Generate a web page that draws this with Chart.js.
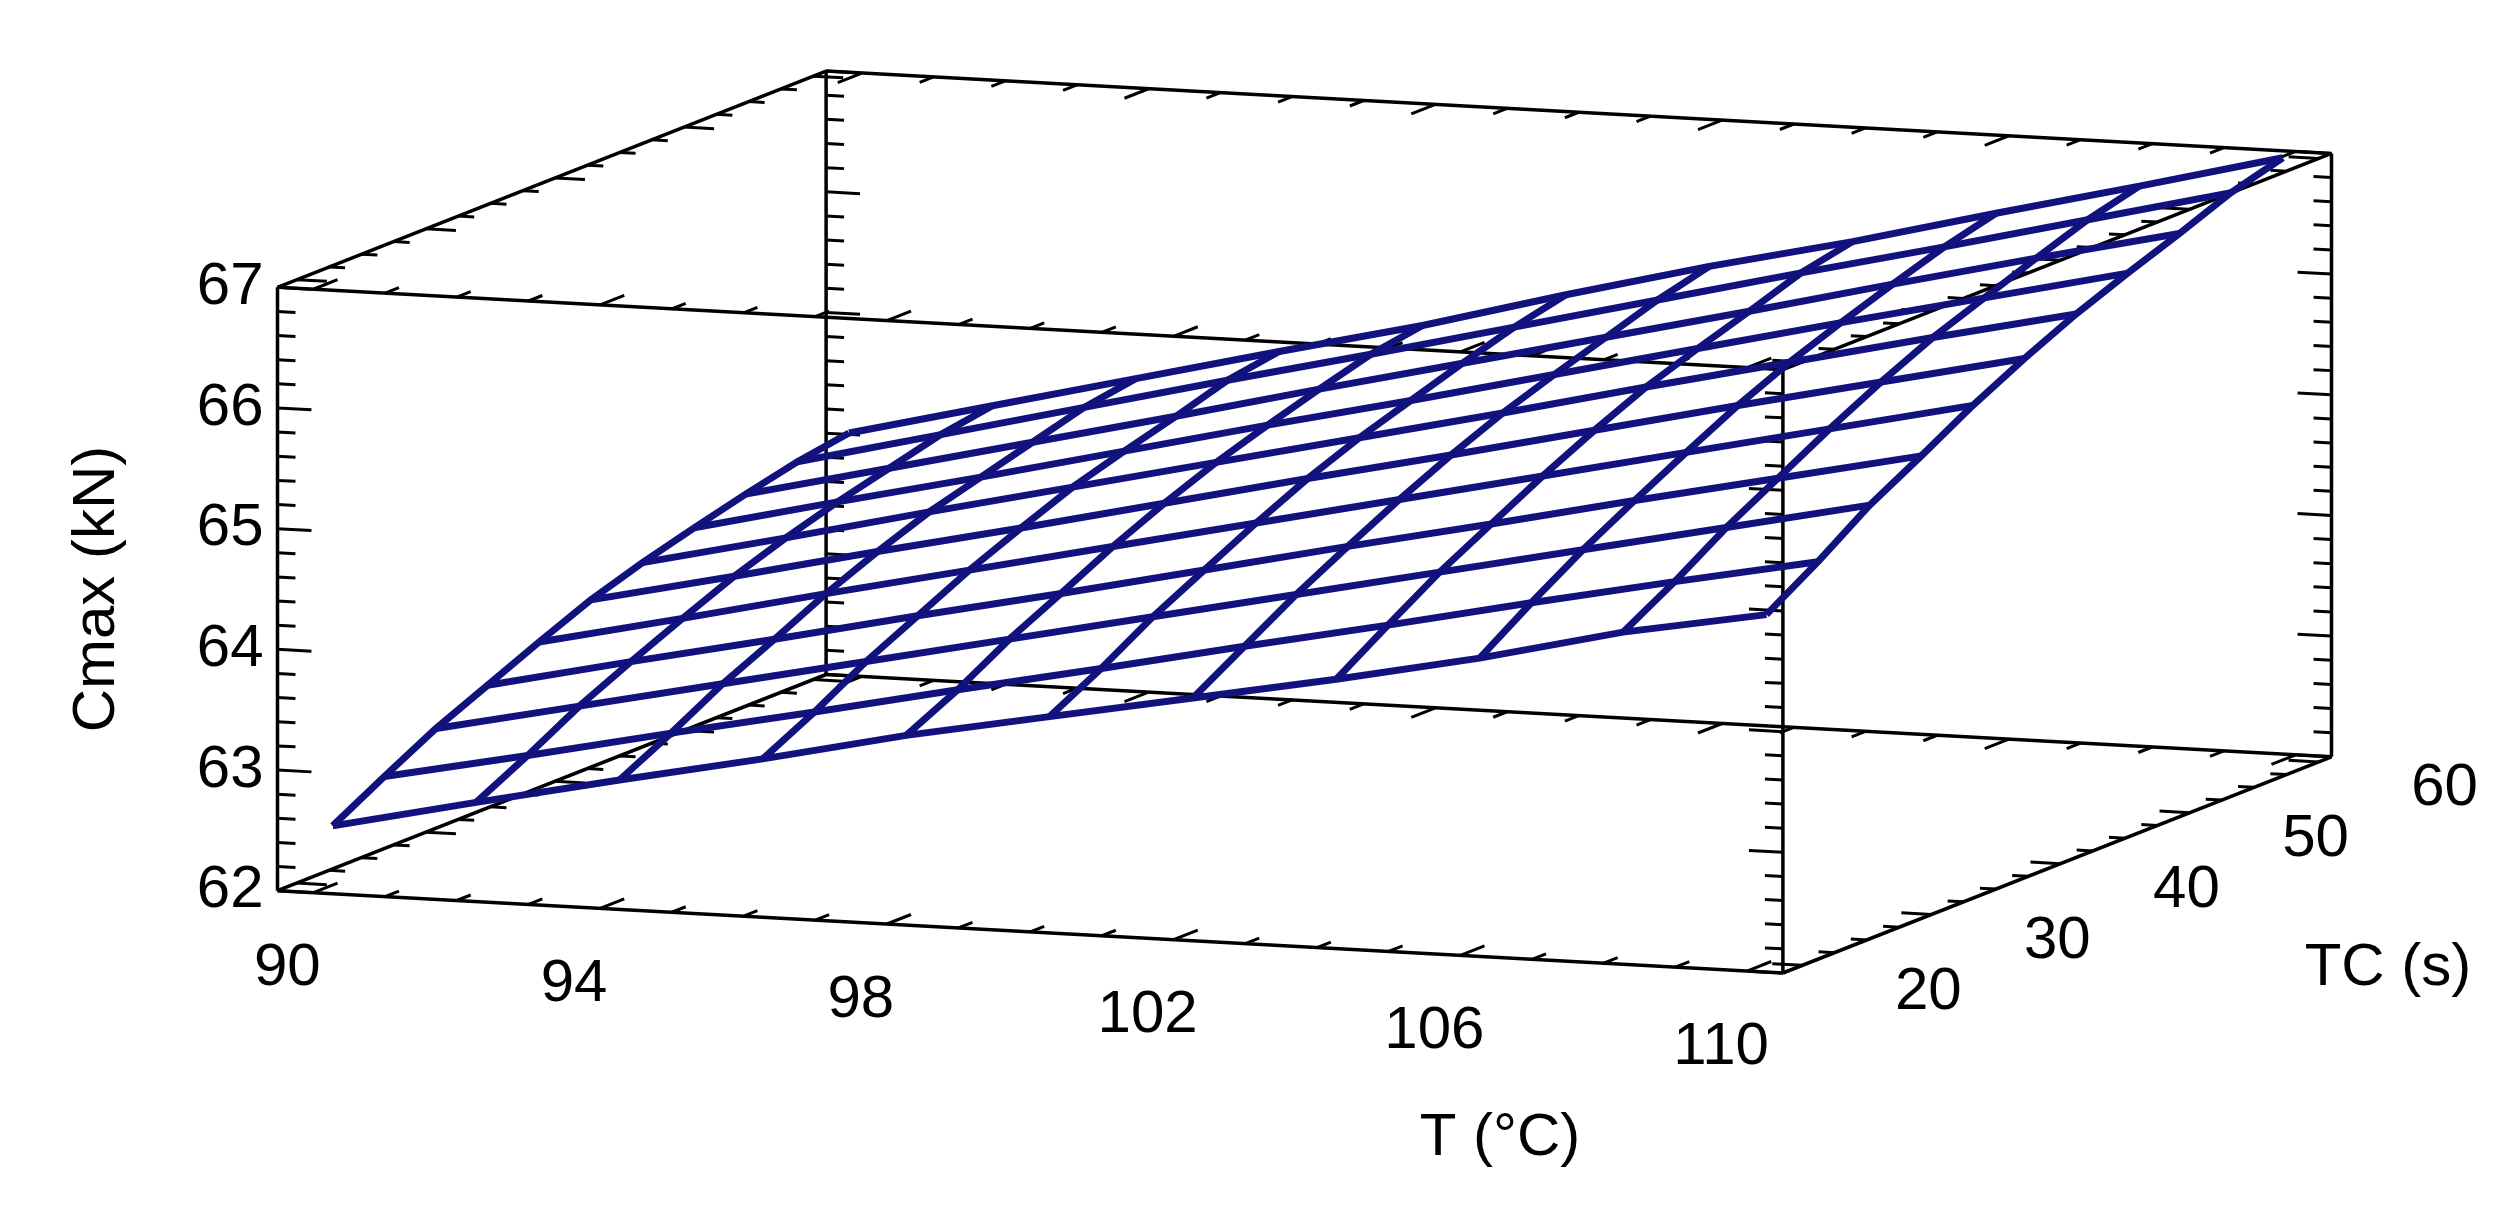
<!DOCTYPE html>
<html>
<head>
<meta charset="utf-8">
<script src="https://cdn.jsdelivr.net/npm/chart.js@4/dist/chart.umd.min.js"></script>
<style>
  html, body { margin: 0; padding: 0; background: #fff; }
  #wrap { width: 2517px; height: 1221px; }
</style>
</head>
<body>
<div id="wrap"><canvas id="chart" width="2517" height="1221"></canvas></div>
<script>
/* ------------------------------- Data -------------------------------*/

const T_VALUES = [90, 92, 94, 96, 98, 100, 102, 104, 106, 108, 110];     // T (°C)
const TC_VALUES = [20, 24, 28, 32, 36, 40, 44, 48, 52, 56, 60];          // TC (s)

// Cmax (kN), one row per TC value, one column per T value
const CMAX_TC20 = [62.49, 62.75, 63.00, 63.24, 63.50, 63.72, 63.94, 64.16, 64.40, 64.68, 64.89];
const CMAX_TC24 = [62.73, 62.97, 63.22, 63.46, 63.71, 63.95, 64.20, 64.44, 64.69, 64.93, 65.16];
const CMAX_TC28 = [62.96, 63.21, 63.46, 63.71, 63.96, 64.21, 64.46, 64.71, 64.96, 65.21, 65.46];
const CMAX_TC32 = [63.15, 63.41, 63.66, 63.92, 64.17, 64.43, 64.69, 64.94, 65.20, 65.45, 65.70];
const CMAX_TC36 = [63.34, 63.60, 63.87, 64.13, 64.39, 64.65, 64.91, 65.17, 65.43, 65.69, 65.95];
const CMAX_TC40 = [63.52, 63.78, 64.05, 64.31, 64.58, 64.85, 65.11, 65.38, 65.65, 65.91, 66.17];
const CMAX_TC44 = [63.66, 63.93, 64.21, 64.48, 64.75, 65.02, 65.29, 65.57, 65.84, 66.11, 66.37];
const CMAX_TC48 = [63.78, 64.06, 64.33, 64.61, 64.89, 65.16, 65.44, 65.72, 66.00, 66.27, 66.54];
const CMAX_TC52 = [63.89, 64.17, 64.45, 64.73, 65.02, 65.30, 65.58, 65.86, 66.15, 66.43, 66.70];
const CMAX_TC56 = [63.99, 64.28, 64.57, 64.86, 65.14, 65.43, 65.72, 66.01, 66.29, 66.58, 66.87];
const CMAX_TC60 = [64.06, 64.35, 64.64, 64.93, 65.21, 65.53, 65.83, 66.10, 66.40, 66.69, 66.99];
const CMAX_ROWS = [CMAX_TC20, CMAX_TC24, CMAX_TC28, CMAX_TC32, CMAX_TC36, CMAX_TC40,
                   CMAX_TC44, CMAX_TC48, CMAX_TC52, CMAX_TC56, CMAX_TC60];

const Z_TICK_LABELS = [62, 63, 64, 65, 66, 67];
const T_TICK_LABELS = [90, 94, 98, 102, 106, 110];
const TC_TICK_LABELS = [20, 30, 40, 50, 60];

const T_RANGE = [89.5, 110.5];
const TC_RANGE = [18.5, 61];
const Z_RANGE = [62, 67];

/* ---------------------------- Projection ----------------------------*/

function project(t, tc, z) {                      // 3D -> page pixel
    var u = (t - T_RANGE[0]) / (T_RANGE[1] - T_RANGE[0]);
    var v = (tc - TC_RANGE[0]) / (TC_RANGE[1] - TC_RANGE[0]);
    var w = (z - Z_RANGE[0]) / (Z_RANGE[1] - Z_RANGE[0]);
    return {
        x: 277.5 + 1505.4 * u + 548.6 * v,
        y: 890.7 + 82.3 * u - 216.2 * v - 603.4 * w
    };
}

function dirT(len) { return { x: 1505.4 / 1507.6 * len, y: 82.3 / 1507.6 * len }; }
function dirTC(len) { return { x: 548.6 / 589.7 * len, y: -216.2 / 589.7 * len }; }

var datasets = [];

function addLine(points, color, width, order) {
    datasets.push({
        data: points,
        showLine: true,
        borderColor: color,
        borderWidth: width,
        pointRadius: 0,
        fill: false,
        order: order
    });
}

function addTick(p, d, sign) {
    addLine([p, { x: p.x + sign * d.x, y: p.y + sign * d.y }], '#000', 3, 3);
}

/* ------------------------------- Box --------------------------------*/

var t0 = T_RANGE[0], t1 = T_RANGE[1], c0 = TC_RANGE[0], c1 = TC_RANGE[1], z0 = Z_RANGE[0], z1 = Z_RANGE[1];
[
    [[t0, c0, z0], [t0, c0, z1]], [[t1, c0, z0], [t1, c0, z1]],
    [[t0, c1, z0], [t0, c1, z1]], [[t1, c1, z0], [t1, c1, z1]],
    [[t0, c0, z0], [t1, c0, z0]], [[t0, c0, z1], [t1, c0, z1]],
    [[t0, c1, z0], [t1, c1, z0]], [[t0, c1, z1], [t1, c1, z1]],
    [[t0, c0, z0], [t0, c1, z0]], [[t0, c0, z1], [t0, c1, z1]],
    [[t1, c0, z0], [t1, c1, z0]], [[t1, c0, z1], [t1, c1, z1]]
].forEach(function (e) {
    addLine([project.apply(null, e[0]), project.apply(null, e[1])], '#000', 3.5, 3);
});

// Cmax ticks on the four vertical edges
for (let k = 0; k <= 25; k++) {
    var z = 62 + k * 0.2;
    var len = (k % 5 == 0) ? 34 : 18;
    addTick(project(t0, c0, z), dirT(len), 1);
    addTick(project(t0, c1, z), dirT(len), 1);
    addTick(project(t1, c0, z), dirT(len), -1);
    addTick(project(t1, c1, z), dirT(len), -1);
}

// T ticks on the four T edges
for (let t = 90; t <= 110; t++) {
    var len = (T_TICK_LABELS.indexOf(t) >= 0) ? 26 : 15;
    addTick(project(t, c0, z0), dirTC(len), 1);
    addTick(project(t, c0, z1), dirTC(len), 1);
    addTick(project(t, c1, z0), dirTC(len), -1);
    addTick(project(t, c1, z1), dirTC(len), -1);
}

// TC ticks on the four TC edges
for (let tc = 20; tc <= 60; tc += 2.5) {
    var len = (tc % 10 == 0) ? 30 : 16;
    addTick(project(t0, tc, z0), dirT(len), 1);
    addTick(project(t0, tc, z1), dirT(len), 1);
    addTick(project(t1, tc, z0), dirT(len), -1);
    addTick(project(t1, tc, z1), dirT(len), -1);
}

/* ----------------------------- Surface ------------------------------*/

const SURFACE_COLOR = '#12127f';

for (let j = 0; j < TC_VALUES.length; j++) {            // lines along T
    var pts = T_VALUES.map((t, i) => project(t, TC_VALUES[j], CMAX_ROWS[j][i]));
    addLine(pts, SURFACE_COLOR, 7, 1);
}
for (let i = 0; i < T_VALUES.length; i++) {             // lines along TC
    var pts = TC_VALUES.map((tc, j) => project(T_VALUES[i], tc, CMAX_ROWS[j][i]));
    addLine(pts, SURFACE_COLOR, 7, 1);
}

/* ------------------------------ Labels ------------------------------*/

const labelPlugin = {
    id: 'labels3d',
    afterDraw(chart) {
        var ctx = chart.ctx;
        var sx = chart.scales.x, sy = chart.scales.y;
        function put(text, p, align) {
            ctx.textAlign = align;
            ctx.fillText(text, sx.getPixelForValue(p.x), sy.getPixelForValue(p.y));
        }
        ctx.save();
        ctx.fillStyle = '#000';
        ctx.textBaseline = 'middle';
        ctx.font = '60px "Liberation Sans", Arial, sans-serif';

        Z_TICK_LABELS.forEach(function (z) {
            var p = project(t0, c0, z);
            put(String(z), { x: p.x - 14, y: p.y }, 'right');
        });
        T_TICK_LABELS.forEach(function (t) {
            var p = project(t, c0, z0);
            put(String(t), { x: p.x - 26, y: p.y + 76 }, 'center');
        });
        TC_TICK_LABELS.forEach(function (tc) {
            var p = project(t1, tc, z0);
            put(String(tc), { x: p.x + 126, y: p.y + 27 }, 'center');
        });

        put('T (°C)', { x: 1500, y: 1138 }, 'center');
        put('TC (s)', { x: 2388, y: 968 }, 'center');

        ctx.translate(sx.getPixelForValue(97), sy.getPixelForValue(589));
        ctx.rotate(-Math.PI / 2);
        ctx.textAlign = 'center';
        ctx.fillText('Cmax (kN)', 0, 0);
        ctx.restore();
    }
};

new Chart(document.getElementById('chart').getContext('2d'), {
    type: 'scatter',
    data: { datasets: datasets },
    options: {
        responsive: false,
        devicePixelRatio: 1,
        animation: false,
        layout: { padding: 0 },
        plugins: { legend: { display: false }, tooltip: { enabled: false } },
        scales: {
            x: { type: 'linear', display: false, min: 0, max: 2517 },
            y: { type: 'linear', display: false, min: 0, max: 1221, reverse: true }
        }
    },
    plugins: [labelPlugin]
});
</script>
</body>
</html>
